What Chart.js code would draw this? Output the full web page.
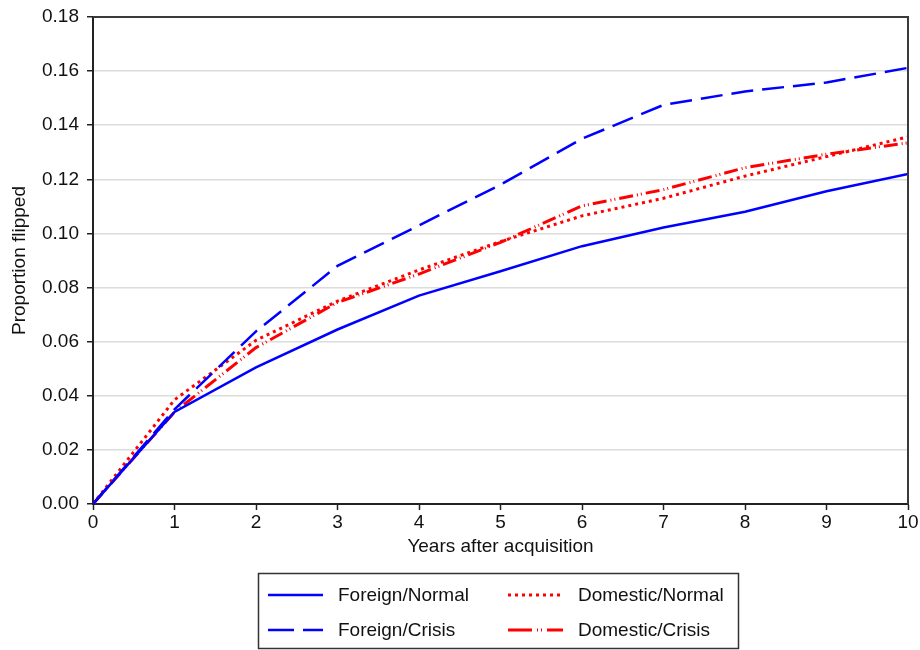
<!DOCTYPE html>
<html>
<head>
<meta charset="utf-8">
<script src="https://cdn.jsdelivr.net/npm/chart.js@4.4.1/dist/chart.umd.min.js"></script>
<style>
  html, body { margin: 0; padding: 0; background: #fff; }
  #wrap { width: 920px; height: 650px; }
</style>
</head>
<body>
<div id="wrap"><canvas id="flipChart" width="920" height="650"></canvas></div>
<script>
// years after acquisition (x axis)
var years = [0, 1, 2, 3, 4, 5, 6, 7, 8, 9, 10];

// proportion flipped
var foreignNormal   = [0, 0.034, 0.0505, 0.0645, 0.077, 0.086, 0.0953, 0.1022, 0.108, 0.1156, 0.122];
var foreignCrisis   = [0, 0.035, 0.0638, 0.088, 0.103, 0.118, 0.135, 0.1475, 0.1525, 0.1558, 0.1612];
var domesticNormal  = [0, 0.0385, 0.0605, 0.075, 0.0865, 0.097, 0.1065, 0.113, 0.1212, 0.1284, 0.1357];
var domesticCrisis  = [0, 0.034, 0.0578, 0.0745, 0.085, 0.0967, 0.1102, 0.1162, 0.1243, 0.1293, 0.1335];

var seriesNames = ["Foreign/Normal", "Foreign/Crisis", "Domestic/Normal", "Domestic/Crisis"];

var FONT = "'Liberation Sans', Arial, sans-serif";
var FSIZE = 19;

function toPoints(vals) {
    return years.map(function (yr, i) { return { x: yr, y: vals[i] }; });
}

//	frame on top and right + the boxed legend under the axis
var framePlugin = {
    id: 'frameAndLegend',
    afterDraw: function (chart) {
        var c = chart.ctx;
        var a = chart.chartArea;
        c.save();
        c.strokeStyle = '#3a3a3a';
        c.lineWidth = 2;
        c.beginPath();
        c.moveTo(a.left, a.top);
        c.lineTo(a.right, a.top);
        c.lineTo(a.right, a.bottom);
        c.stroke();

        // legend box
        c.strokeStyle = '#333';
        c.lineWidth = 1.5;
        c.strokeRect(258.5, 573.5, 480, 75);

        var cols = [268, 508];
        var rows = [595, 630];
        var order = [[0, 0, 0], [1, 0, 1], [2, 1, 0], [3, 1, 1]];
        c.font = FSIZE + 'px ' + FONT;
        c.textBaseline = 'middle';
        c.fillStyle = '#111';
        order.forEach(function (o) {
            var ds = chart.data.datasets[o[0]];
            var x = cols[o[1]], y = rows[o[2]];
            c.save();
            c.strokeStyle = ds.borderColor;
            c.lineWidth = ds.borderWidth;
            c.setLineDash(ds.legendDash || ds.borderDash || []);
            c.beginPath();
            c.moveTo(x, y);
            c.lineTo(x + 55, y);
            c.stroke();
            c.restore();
            c.fillText(ds.label, x + 70, y + 1);
        });
        c.restore();
    }
};

var ctx = document.getElementById('flipChart');

var flipChart = new Chart(ctx, {
    type: 'line',
    data: {
        datasets: [{
            label: seriesNames[0],
            data: toPoints(foreignNormal),
            borderColor: '#0000ff',
            borderWidth: 2.5,
            borderDash: []
        }, {
            label: seriesNames[1],
            data: toPoints(foreignCrisis),
            borderColor: '#0000ff',
            borderWidth: 2.5,
            borderDash: [22, 9],
            legendDash: [26, 9]
        }, {
            label: seriesNames[2],
            data: toPoints(domesticNormal),
            borderColor: '#ff0000',
            borderWidth: 3,
            borderDash: [3, 4]
        }, {
            label: seriesNames[3],
            data: toPoints(domesticCrisis),
            borderColor: '#ff0000',
            borderWidth: 3,
            borderDash: [14, 4, 1, 3, 1, 4],
            legendDash: [24, 5, 1, 3, 1, 5]
        }]
    },
    options: {
        responsive: false,
        animation: false,
        devicePixelRatio: 1,
        layout: { padding: { top: 17, right: 12, left: 8, bottom: 92 } },
        elements: {
            point: { radius: 0, hoverRadius: 0 },
            line: { tension: 0, borderCapStyle: 'butt' }
        },
        plugins: {
            legend: { display: false },
            tooltip: { enabled: false }
        },
        scales: {
            x: {
                type: 'linear',
                min: 0,
                max: 10,
                afterFit: function (s) { s.height = 54; s.paddingLeft = 0; s.paddingRight = 0; },
                ticks: {
                    stepSize: 1,
                    padding: 1,
                    color: '#111',
                    font: { family: FONT, size: FSIZE }
                },
                grid: {
                    drawOnChartArea: false,
                    tickLength: 6,
                    tickColor: '#222',
                    tickWidth: 1.5
                },
                border: { color: '#222', width: 2 },
                title: {
                    display: true,
                    text: 'Years after acquisition',
                    color: '#111',
                    font: { family: FONT, size: FSIZE },
                    padding: { top: 0, bottom: 0 }
                }
            },
            y: {
                min: 0,
                max: 0.18,
                afterFit: function (s) { s.width = 85; s.paddingTop = 0; s.paddingBottom = 0; },
                ticks: {
                    stepSize: 0.02,
                    padding: 8,
                    color: '#111',
                    font: { family: FONT, size: FSIZE },
                    callback: function (v) { return v.toFixed(2); }
                },
                grid: {
                    color: '#dcdcdc',
                    lineWidth: 1.5,
                    tickLength: 6,
                    tickColor: '#222',
                    tickWidth: 1.5
                },
                border: { color: '#222', width: 2 },
                title: {
                    display: true,
                    text: 'Proportion flipped',
                    color: '#111',
                    font: { family: FONT, size: FSIZE },
                    padding: { top: 0, bottom: 0 }
                }
            }
        }
    },
    plugins: [framePlugin]
});
</script>
</body>
</html>
